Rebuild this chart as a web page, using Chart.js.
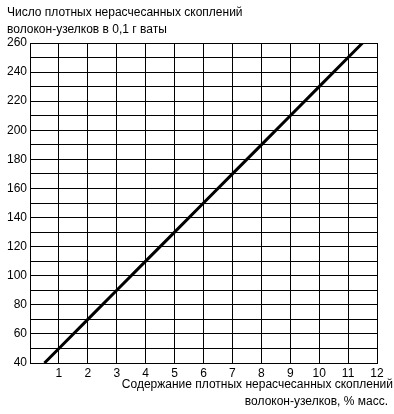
<!DOCTYPE html>
<html><head><meta charset="utf-8">
<script src="https://cdn.jsdelivr.net/npm/chart.js@4/dist/chart.umd.min.js"></script>
<style>html,body{margin:0;padding:0;background:#fff}#wrap{width:394px;height:414px;position:relative}</style>
</head><body><div id="wrap"><canvas id="c" width="394" height="414"></canvas></div>
<script>
const xValues = [0.5, 1, 2, 3, 4, 5, 6, 7, 8, 9, 10, 11, 11.5];
const yValues = [40, 50, 70, 90, 110, 130, 150, 170, 190, 210, 230, 250, 260];
const xTickLabels = ['1','2','3','4','5','6','7','8','9','10','11','12'];
const yTickLabels = ['40','60','80','100','120','140','160','180','200','220','240','260'];
const yTitle = ['Число плотных нерасчесанных скоплений', 'волокон-узелков в 0,1 г ваты'];
const xTitle = ['Содержание плотных нерасчесанных скоплений', 'волокон-узелков, % масс.'];

const FONT = '12px "Liberation Sans", Arial, sans-serif';
const textPlugin = {
  id: 'texts',
  afterDraw(chart) {
    const ctx = chart.ctx;
    ctx.save();
    ctx.fillStyle = '#000';
    ctx.font = FONT;
    ctx.textBaseline = 'middle';
    ctx.textAlign = 'left';
    ctx.fillText(yTitle[0], 7, 13);
    ctx.fillText(yTitle[1], 7, 30);
    ctx.textAlign = 'right';
    ctx.fillText(xTitle[0], 393, 385);
    ctx.fillText(xTitle[1], 388, 402);
    ctx.restore();
  }
};

const pts = xValues.map((x, i) => ({x: x, y: yValues[i]}));
new Chart(document.getElementById('c'), {
  type: 'scatter',
  data: { datasets: [{
    data: pts, showLine: true, borderColor: '#000', borderWidth: 3,
    pointRadius: 0, pointHoverRadius: 0, tension: 0
  }]},
  options: {
    responsive: false, animation: false,
    layout: { padding: { left: 0, right: 17, top: 43, bottom: 0 } },
    plugins: { legend: { display: false }, tooltip: { enabled: false } },
    scales: {
      x: {
        type: 'linear', min: 0, max: 12,
        grid: { color: '#000', lineWidth: 1, drawTicks: false },
        border: { color: '#000', width: 1 },
        ticks: { stepSize: 1, color: '#000', font: { family: '"Liberation Sans", Arial, sans-serif', size: 12 }, padding: 3,
          maxRotation: 0, autoSkip: false,
          callback: (v) => (v >= 1 && v <= 12) ? xTickLabels[v - 1] : '' },
        afterFit(s) { s.height = 51; }
      },
      y: {
        type: 'linear', min: 40, max: 260,
        grid: { color: '#000', lineWidth: 1, drawTicks: false },
        border: { color: '#000', width: 1 },
        ticks: { stepSize: 10, color: '#000', font: { family: '"Liberation Sans", Arial, sans-serif', size: 12 }, padding: 3,
          autoSkip: false,
          callback: (v) => (v % 20 === 0) ? yTickLabels[(v - 40) / 20] : '' },
        afterFit(s) { s.width = 30; }
      }
    }
  },
  plugins: [textPlugin]
});
</script></body></html>
